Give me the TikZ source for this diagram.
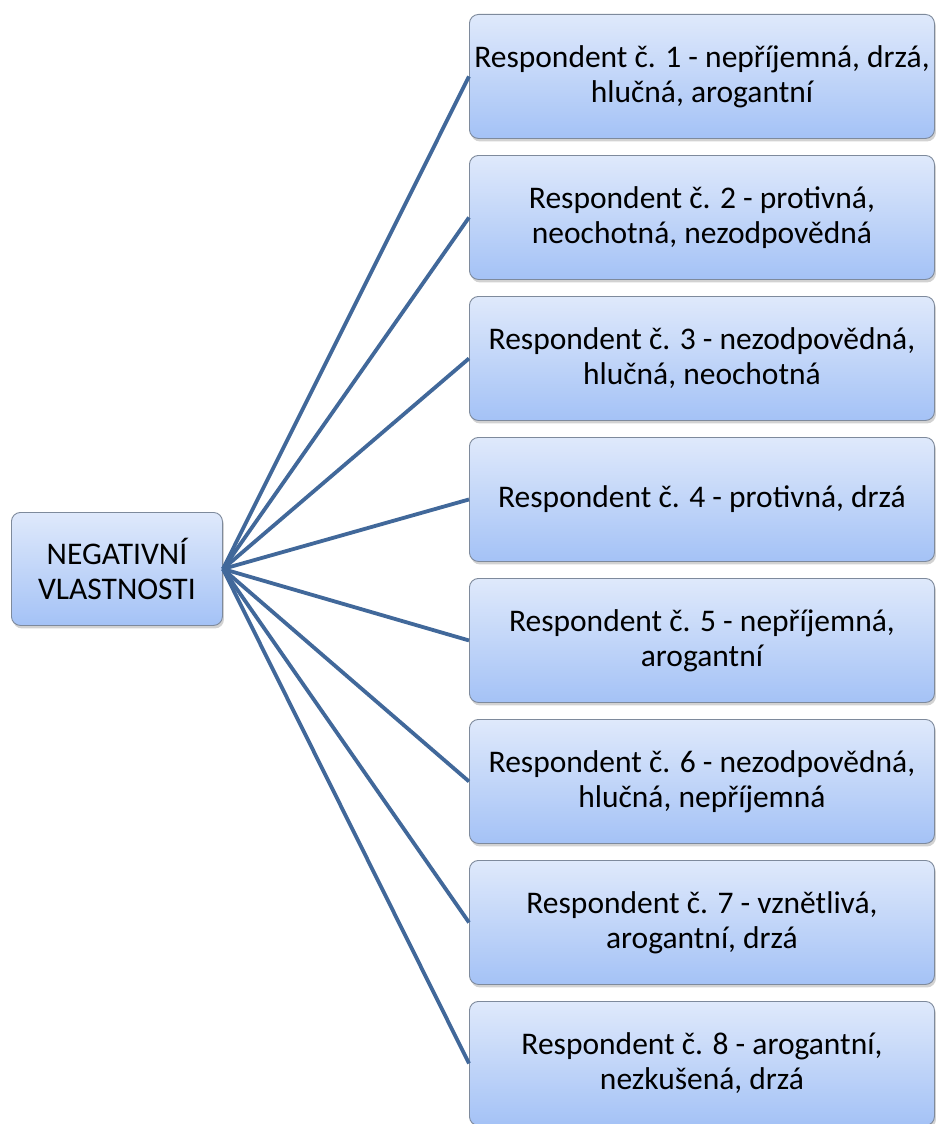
\documentclass[tikz,border=0pt]{standalone}
\usepackage{fontspec}
\setmainfont{Carlito}
\usetikzlibrary{shadows}
\definecolor{boxtop}{HTML}{DFE9FB}
\definecolor{boxbot}{HTML}{A4C2F6}
\definecolor{boxline}{HTML}{7E8A9C}
\definecolor{edgecol}{HTML}{41689A}
\tikzset{
  card/.style={rectangle, rounded corners=9pt, draw=boxline, line width=0.9pt,
    top color=boxtop, bottom color=boxbot, anchor=north west, align=center,
    inner sep=0pt, font=\fontsize{31.5}{35}\selectfont,
    drop shadow={opacity=0.35, shadow xshift=1.5pt, shadow yshift=-3pt}},
  rootbox/.style={card, minimum width=211pt, minimum height=113pt},
  leafbox/.style={card, minimum width=465pt, minimum height=124pt},
  link/.style={draw=edgecol, line width=3.8pt}
}
\begin{document}
\begin{tikzpicture}[x=1pt,y=-1pt]
\useasboundingbox[fill=white] (0,0) rectangle (935,1124);
\node[rootbox] (root) at (11,512) {NEGATIVNÍ\\VLASTNOSTI};
\node[leafbox] (r1) at (469,14)  {Respondent č. 1 - nepříjemná, drzá,\\hlučná, arogantní};
\node[leafbox] (r2) at (469,155) {Respondent č. 2 - protivná,\\neochotná, nezodpovědná};
\node[leafbox] (r3) at (469,296) {Respondent č. 3 - nezodpovědná,\\hlučná, neochotná};
\node[leafbox] (r4) at (469,437) {Respondent č. 4 - protivná, drzá};
\node[leafbox] (r5) at (469,578) {Respondent č. 5 - nepříjemná,\\arogantní};
\node[leafbox] (r6) at (469,719) {Respondent č. 6 - nezodpovědná,\\hlučná, nepříjemná};
\node[leafbox] (r7) at (469,860) {Respondent č. 7 - vznětlivá,\\arogantní, drzá};
\node[leafbox] (r8) at (469,1001) {Respondent č. 8 - arogantní,\\nezkušená, drzá};
\foreach \i in {1,...,8} {
  \draw[link] (root.east) -- (r\i.west);
}
\end{tikzpicture}
\end{document}
